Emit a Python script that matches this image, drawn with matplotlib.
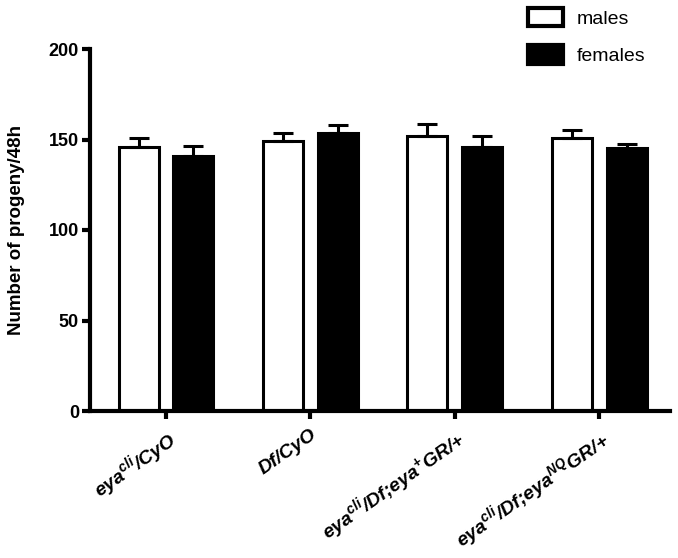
import numpy as np
import matplotlib
matplotlib.use('Agg')
from matplotlib import pyplot as plt
from matplotlib.patches import Patch

plt.rcParams['font.family'] = 'Liberation Sans'
plt.rcParams['mathtext.fontset'] = 'custom'
plt.rcParams['mathtext.rm'] = 'Liberation Sans:bold:italic'
plt.rcParams['mathtext.it'] = 'Liberation Sans:bold:italic'
plt.rcParams['mathtext.bf'] = 'Liberation Sans:bold:italic'

genotypes = [r'eya$^{cli}$/CyO',
             r'Df/CyO',
             r'eya$^{cli}$/Df;eya$^{+}$GR/+',
             r'eya$^{cli}$/Df;eya$^{NQ}$GR/+']
males = [146, 149, 152, 151]
males_err = [5, 4.5, 6.5, 4.5]
females = [141, 153.5, 146, 145.5]
females_err = [5.5, 4.5, 6, 2]

fig = plt.figure(figsize=(6.78, 5.58), dpi=100)
ax = fig.add_axes([90/678, 147/558, 580/678, 362/558])

x = np.arange(len(genotypes))
w = 0.277
off = 0.19
lw = 2.2

ax.bar(x - off, males, w, color='white', edgecolor='black', linewidth=lw,
       yerr=[np.zeros(4), males_err], error_kw=dict(ecolor='black', elinewidth=lw, capsize=7.5, capthick=lw),
       label='males', zorder=2)
ax.bar(x + off, females, w, color='black', edgecolor='black', linewidth=lw,
       yerr=[np.zeros(4), females_err], error_kw=dict(ecolor='black', elinewidth=lw, capsize=7.5, capthick=lw),
       label='females', zorder=2)

ax.set_xlim(-0.526, 3.49)
ax.set_ylim(0, 200)
ax.set_yticks([0, 50, 100, 150, 200])
ax.set_xticks(x)
ax.set_xticklabels(genotypes, rotation=35, ha='right', va='top', rotation_mode='anchor',
                   fontsize=14, fontweight='bold', fontstyle='italic')
for t in ax.get_yticklabels():
    t.set_fontweight('bold')
    t.set_fontsize(13)

for s in ['top', 'right']:
    ax.spines[s].set_visible(False)
for s in ['left', 'bottom']:
    ax.spines[s].set_linewidth(3)
    ax.spines[s].set_zorder(3)
ax.tick_params(width=3, length=6, pad=2)
ax.tick_params(axis='x', pad=5)

ax.set_ylabel('Number of progeny/48h', fontsize=13.5, fontweight='bold', labelpad=17)

handles = [Patch(facecolor='white', edgecolor='black', linewidth=3, label='males'),
           Patch(facecolor='black', edgecolor='black', linewidth=3, label='females')]
fig.legend(handles=handles, loc='upper left', bbox_to_anchor=(518/678, 1 + 2/558),
           bbox_transform=fig.transFigure, frameon=False, fontsize=14,
           handlelength=1.8, handleheight=1.1, handletextpad=0.7, labelspacing=0.9, borderpad=0)

fig.savefig('out.png', dpi=100)
